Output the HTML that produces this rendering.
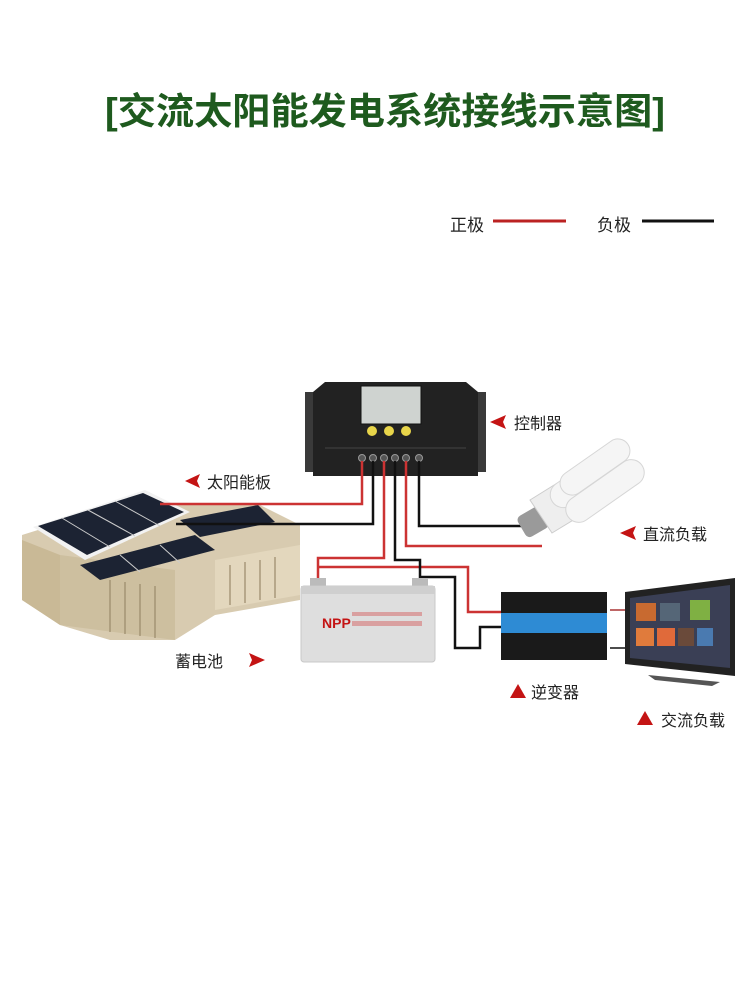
<!DOCTYPE html>
<html><head><meta charset="utf-8"><style>
html,body{margin:0;padding:0;background:#fff;}
svg{display:block;}
text{font-family:"Liberation Sans","Noto Sans CJK SC",sans-serif;}
</style></head><body>
<svg width="750" height="1000" viewBox="0 0 750 1000" xmlns="http://www.w3.org/2000/svg">
<rect width="750" height="1000" fill="#fff"/>
<text x="385" y="124" text-anchor="middle" font-size="37" font-weight="bold" fill="#1e5a1e" textLength="560" lengthAdjust="spacingAndGlyphs">[交流太阳能发电系统接线示意图]</text>

<!-- legend -->
<text x="450" y="231" font-size="17" fill="#222">正极</text>
<line x1="493" y1="221" x2="566" y2="221" stroke="#b22" stroke-width="3"/>
<text x="597" y="231" font-size="17" fill="#222">负极</text>
<line x1="642" y1="221" x2="714" y2="221" stroke="#111" stroke-width="3"/>

<!-- house -->
<g>
<polygon points="22,535 70,520 170,520 170,505 260,505 300,525 300,600 215,615 175,640 110,640 60,625 22,600" fill="#d8cbb0"/>
<polygon points="22,540 60,555 60,625 22,600" fill="#c9b996"/>
<polygon points="60,555 175,570 175,640 60,625" fill="#cdbf9f"/>
<polygon points="215,560 300,545 300,595 215,610" fill="#e3d7bd"/>
<polygon points="33,527 145,490 190,512 85,560" fill="#f2f2f2"/>
<polygon points="38,526 143,493 184,512 87,555" fill="#1c2333"/>
<polygon points="80,565 195,535 215,550 100,580" fill="#1c2333"/>
<polygon points="180,520 258,505 275,522 200,537" fill="#1c2333"/>
<g stroke="#ccc" stroke-width="1">
<line x1="62" y1="518" x2="110" y2="547"/><line x1="88" y1="510" x2="135" y2="536"/><line x1="115" y1="501" x2="160" y2="526"/>
<line x1="120" y1="555" x2="140" y2="572"/><line x1="160" y1="545" x2="180" y2="563"/>
</g>
<g stroke="#9a8a6a" stroke-width="2" opacity="0.6">
<line x1="110" y1="580" x2="110" y2="632"/><line x1="125" y1="582" x2="125" y2="634"/><line x1="140" y1="584" x2="140" y2="636"/><line x1="155" y1="586" x2="155" y2="638"/>
<line x1="230" y1="565" x2="230" y2="605"/><line x1="245" y1="562" x2="245" y2="603"/><line x1="260" y1="560" x2="260" y2="600"/><line x1="275" y1="557" x2="275" y2="598"/>
</g>
</g>

<!-- controller -->
<rect x="305" y="392" width="20" height="80" fill="#3a3a3a"/>
<rect x="466" y="392" width="20" height="80" fill="#3a3a3a"/>
<polygon points="325,382 466,382 478,392 478,476 313,476 313,392" fill="#222"/>
<rect x="361" y="386" width="60" height="38" fill="#cfd3d0" stroke="#111"/>
<circle cx="372" cy="431" r="5" fill="#e8d54a"/><circle cx="389" cy="431" r="5" fill="#e8d54a"/><circle cx="406" cy="431" r="5" fill="#e8d54a"/>
<line x1="325" y1="448" x2="466" y2="448" stroke="#444"/>
<g fill="#555" stroke="#999" stroke-width="1">
<circle cx="362" cy="458" r="3.5"/><circle cx="373" cy="458" r="3.5"/><circle cx="384" cy="458" r="3.5"/><circle cx="395" cy="458" r="3.5"/><circle cx="406" cy="458" r="3.5"/><circle cx="419" cy="458" r="3.5"/>
</g>
<polygon points="490,422 506,415 503,422 506,429" fill="#c41414"/>
<text x="514" y="429" font-size="16" fill="#222">控制器</text>

<!-- wires -->
<g fill="none" stroke-width="2.5">
<polyline points="362,461 362,504 160,504" stroke="#c33"/>
<polyline points="373,461 373,524 176,524" stroke="#111"/>
<polyline points="384,461 384,558 318,558 318,584" stroke="#c33"/>
<polyline points="318,567 468,567 468,612 505,612" stroke="#c33"/>
<polyline points="395,461 395,560 420,560 420,584" stroke="#111"/>
<polyline points="420,577 455,577 455,648 480,648 480,627 505,627" stroke="#111"/>
<polyline points="406,461 406,546 542,546" stroke="#c33"/>
<polyline points="419,461 419,526 532,526" stroke="#111"/>
</g>

<polygon points="185,481 200,474 197,481 200,488" fill="#c41414"/>
<text x="207" y="488" font-size="16" fill="#222">太阳能板</text>

<!-- bulb -->
<g>
<rect x="520" y="510" width="26" height="24" rx="5" fill="#9a9a9a" transform="rotate(-30 533 522)"/>
<polygon points="530,500 575,472 598,505 552,533" fill="#eee" stroke="#ccc"/>
<g fill="#f5f5f5" stroke="#d6d6d6">
<rect x="545" y="465" width="85" height="26" rx="13" transform="rotate(-35 587 478)"/>
<rect x="560" y="478" width="90" height="26" rx="13" transform="rotate(-35 605 491)"/>
<rect x="555" y="455" width="80" height="24" rx="12" transform="rotate(-35 595 467)"/>
</g>
</g>
<polygon points="620,533 636,526 633,533 636,540" fill="#c41414"/>
<text x="643" y="540" font-size="16" fill="#222">直流负载</text>

<!-- battery -->
<rect x="310" y="578" width="16" height="10" fill="#bbb"/><rect x="412" y="578" width="16" height="10" fill="#bbb"/>
<rect x="301" y="586" width="134" height="76" rx="3" fill="#dedede" stroke="#c8c8c8"/>
<rect x="301" y="586" width="134" height="8" fill="#cfcfcf"/>
<text x="322" y="628" font-size="14" font-weight="bold" fill="#c41414">NPP</text>
<rect x="352" y="612" width="70" height="4" fill="#d9a0a0"/><rect x="352" y="621" width="70" height="5" fill="#d9a0a0"/>
<text x="175" y="667" font-size="16" fill="#222">蓄电池</text>
<polygon points="265,660 249,653 252,660 249,667" fill="#c41414"/>

<!-- inverter -->
<rect x="501" y="592" width="106" height="68" fill="#1a1a1a"/>
<rect x="501" y="613" width="106" height="20" fill="#2e8bd4"/>
<polygon points="518,684 510,698 526,698" fill="#c41414"/>
<text x="531" y="698" font-size="16" fill="#222">逆变器</text>

<!-- TV -->
<line x1="610" y1="610" x2="628" y2="610" stroke="#a33" stroke-width="1.5"/>
<line x1="610" y1="648" x2="628" y2="648" stroke="#111" stroke-width="1.5"/>
<polygon points="625,592 735,578 735,676 625,664" fill="#222"/>
<polygon points="630,598 730,585 730,668 630,658" fill="#3a3f55"/>
<rect x="636" y="603" width="20" height="18" fill="#c86a30"/><rect x="660" y="603" width="20" height="18" fill="#556677"/><rect x="690" y="600" width="20" height="20" fill="#7fb043"/>
<rect x="636" y="628" width="18" height="18" fill="#e07b3c"/><rect x="657" y="628" width="18" height="18" fill="#e06a3a"/><rect x="678" y="628" width="16" height="18" fill="#6a4a3a"/><rect x="697" y="628" width="16" height="18" fill="#4a7ab0"/>
<polygon points="648,675 720,682 712,686 655,680" fill="#555"/>
<polygon points="645,711 637,725 653,725" fill="#c41414"/>
<text x="661" y="726" font-size="16" fill="#222">交流负载</text>
</svg>
</body></html>
